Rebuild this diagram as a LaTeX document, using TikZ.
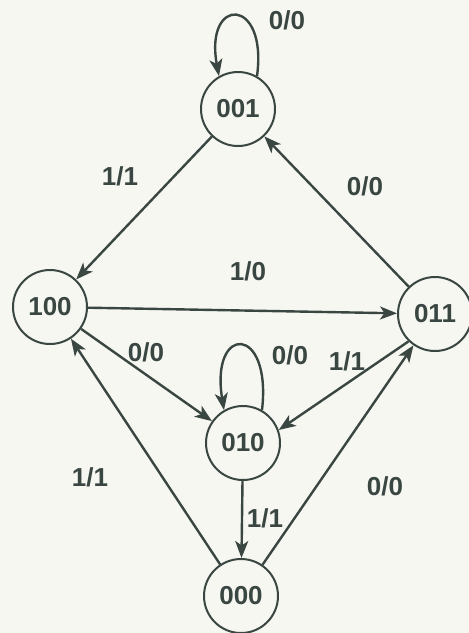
\documentclass[tikz,border=0pt]{standalone}
\usepackage{fontspec}
\setmainfont{Liberation Sans}
\usetikzlibrary{arrows.meta}
\definecolor{ink}{HTML}{3A4642}
\definecolor{paper}{HTML}{F7F7F2}
\begin{document}
\begin{tikzpicture}[x=1pt,y=1pt,
  state/.style={circle,draw=ink,line width=2pt,minimum size=74pt,inner sep=0pt,
    text=ink,font=\fontsize{26}{30}\selectfont\bfseries},
  lbl/.style={text=ink,font=\fontsize{26}{30}\selectfont\bfseries,inner sep=0pt},
  edge/.style={draw=ink,line width=2.4pt,-{Stealth[length=17pt,width=13pt,inset=4.5pt]}}]
\fill[paper] (0,0) rectangle (469,-633);
\useasboundingbox (0,0) rectangle (469,-633);
\node[state] (s001) at (238,-109) {001};
\node[state] (s100) at (50,-307) {100};
\node[state] (s011) at (435,-314) {011};
\node[state] (s010) at (243,-443) {010};
\node[state] (s000) at (241,-596) {000};
% edges
\draw[edge] (s001) -- (s100);
\draw[edge] (s011) -- (s001);
\draw[edge] (s100) -- (s011);
\draw[edge] (s100) -- (s010);
\draw[edge] (s011.226) -- (s010.20);
\draw[edge] (s010) -- (s000);
\draw[edge] (s000) -- (s100);
\draw[edge] (s000) -- (s011);
% self loops
\draw[edge] (s001.60) .. controls (268,4) and (204,4) .. (s001.120);
\draw[edge] (s010.60) .. controls (272,-324) and (210,-324) .. (s010.120);
% labels
\node[lbl] (l1) at (287,-20) {0/0};
\node[lbl] (l2) at (120,-176) {1/1};
\node[lbl] (l3) at (365,-186) {0/0};
\node[lbl] (l4) at (248,-271) {1/0};
\node[lbl] (l5) at (146,-352) {0/0};
\node[lbl] (l6) at (290,-355) {0/0};
\node[lbl] (l7) at (347,-361) {1/1};
\node[lbl] (l8) at (265,-518) {1/1};
\node[lbl] (l9) at (90,-477) {1/1};
\node[lbl] (l10) at (385,-486) {0/0};
\end{tikzpicture}
\end{document}
